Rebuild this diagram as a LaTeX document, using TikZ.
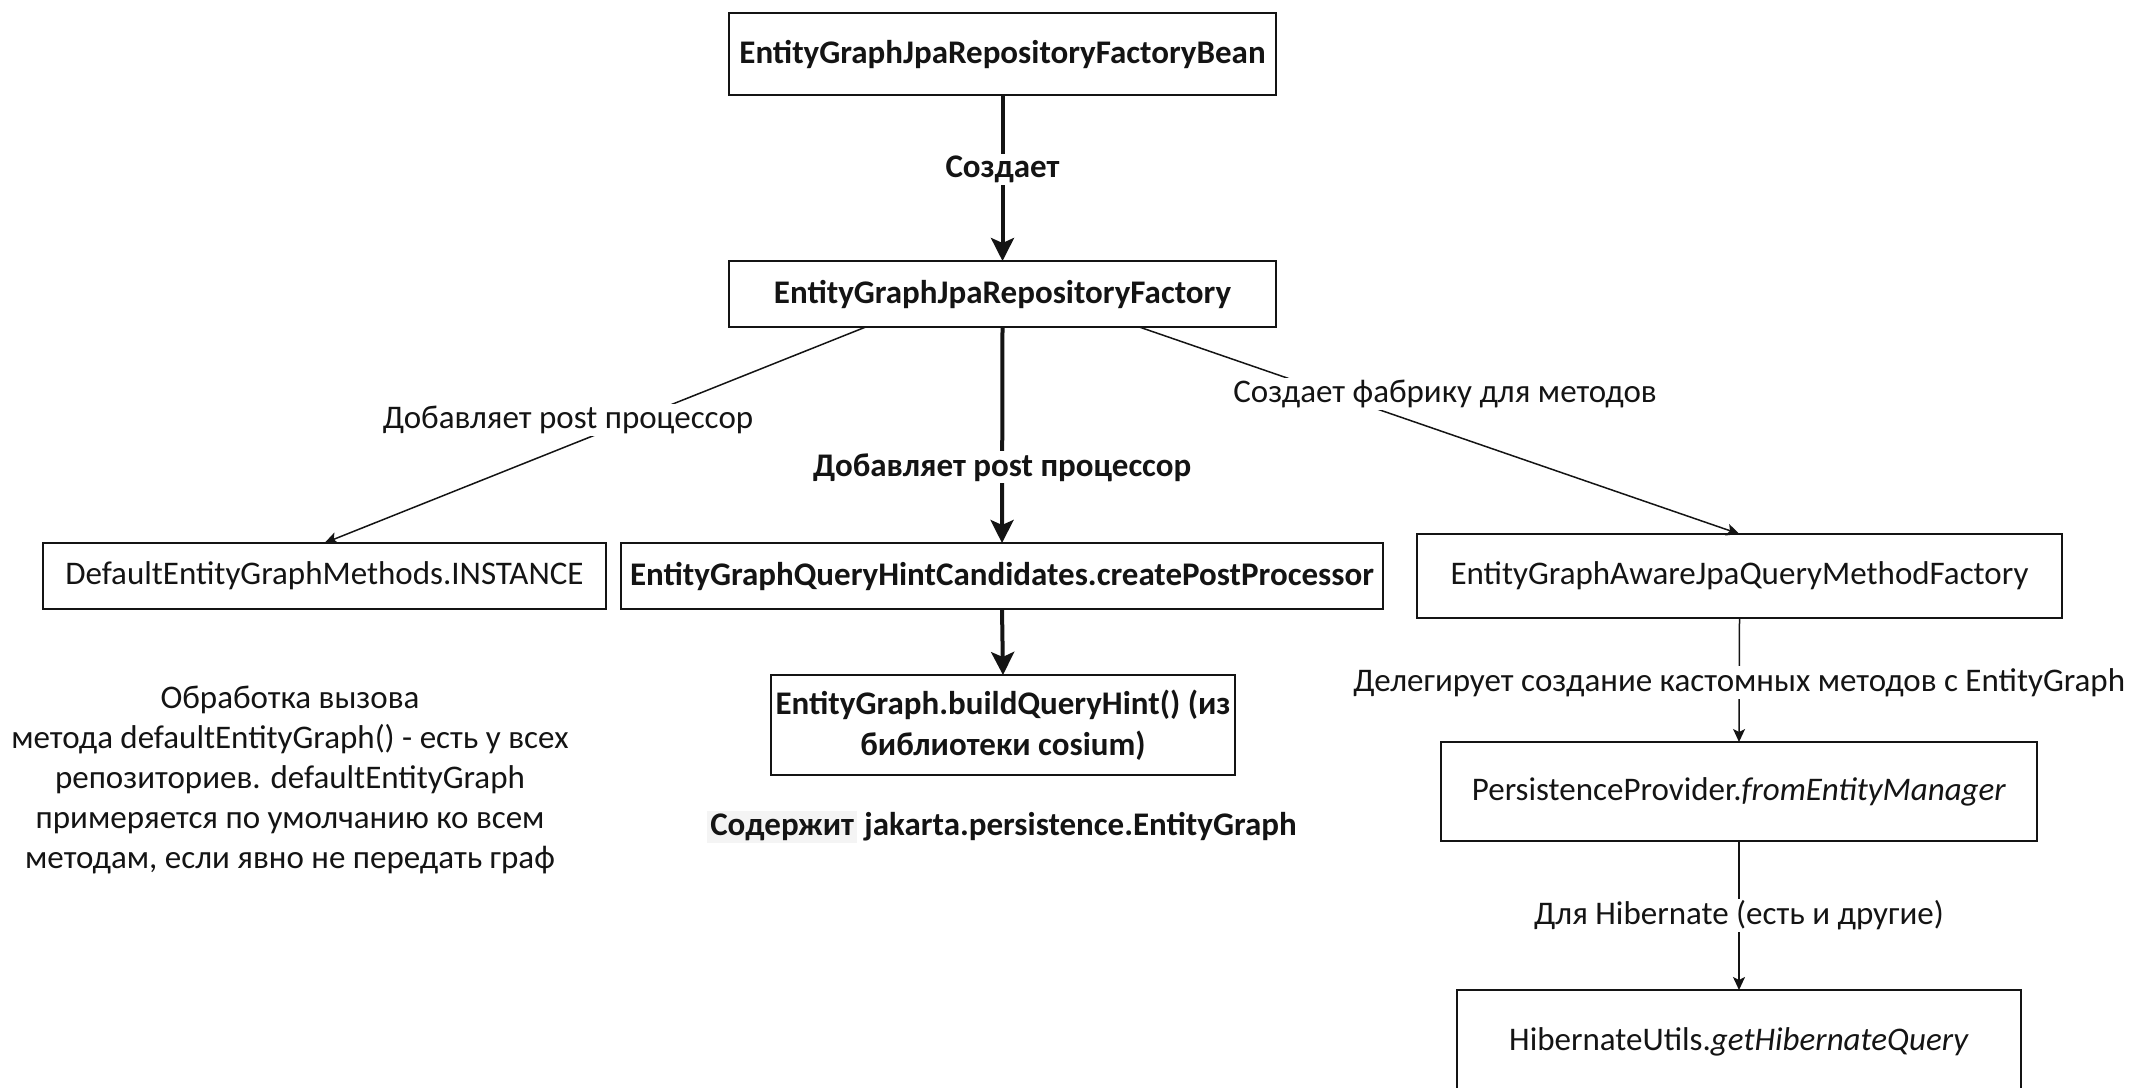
\documentclass[tikz,border=0pt]{standalone}
\usepackage{fontspec}
\setmainfont{Carlito}
\usetikzlibrary{arrows.meta,calc}
\definecolor{hl}{RGB}{244,244,244}
\definecolor{ink}{RGB}{20,20,20}
\begin{document}
\begin{tikzpicture}[x=1pt,y=-1pt,
  txt/.style={inner sep=2pt, outer sep=0pt, align=center, text=ink, font=\fontsize{33}{40}\selectfont},
  txtb/.style={txt, font=\fontsize{33}{40}\selectfont\bfseries},
  box/.style={draw=ink, line width=1.6pt, inner sep=0pt, outer sep=0pt, align=center, text=ink, font=\fontsize{33}{41}\selectfont},
  boldbox/.style={box, font=\fontsize{33}{41}\selectfont\bfseries},
  lbl/.style={txt, fill=white},
  lblb/.style={txtb, fill=white},
  thickarrow/.style={draw=ink, line width=4pt, -{Stealth[length=23pt,width=23pt,inset=5pt]}},
  thinarrow/.style={draw=ink, line width=1.5pt, -{Stealth[length=13pt,width=12pt,inset=3pt]}}
]
\useasboundingbox (0,0) rectangle (2136,1087);

% boxes
\node[boldbox, minimum width=547pt, minimum height=82pt] (b1) at (1002.5,54) {EntityGraphJpaRepositoryFactoryBean};
\node[boldbox, minimum width=547pt, minimum height=66pt] (b2) at (1002.5,294) {EntityGraphJpaRepositoryFactory};
\node[boldbox, minimum width=762pt, minimum height=66pt] (b3) at (1002,576) {EntityGraphQueryHintCandidates.createPostProcessor};
\node[boldbox, minimum width=464pt, minimum height=100pt] (b4) at (1003,725) {EntityGraph.buildQueryHint() (из\\библиотеки cosium)};
\node[box, minimum width=563pt, minimum height=66pt] (dflt) at (324.5,576) {DefaultEntityGraphMethods.INSTANCE};
\node[box, minimum width=645pt, minimum height=84pt] (aware) at (1739.5,576) {EntityGraphAwareJpaQueryMethodFactory};
\node[box, minimum width=596pt, minimum height=99pt] (pp) at (1739,791.5) {PersistenceProvider.\textit{fromEntityManager}};
\node[box, minimum width=564pt, minimum height=104pt] (hu) at (1739,1042) {HibernateUtils.\textit{getHibernateQuery}};

% free texts
\node[txt] (note) at (290,780) {Обработка вызова\\метода defaultEntityGraph() - есть у всех\\репозиториев. defaultEntityGraph\\примеряется по умолчанию ко всем\\методам, если явно не передать граф};
\node[txtb] (contains) at (1002,827) {{\setlength{\fboxsep}{3pt}\colorbox{hl}{Содержит}} jakarta.persistence.EntityGraph};

% connectors
\coordinate (b2l) at ($(b2.south west)!0.25!(b2.south east)$);
\coordinate (b2r) at ($(b2.south west)!0.75!(b2.south east)$);
\draw[thickarrow] (b1.south) -- node[lblb, pos=0.45] (l1) {Создает} (b2.north);
\draw[thickarrow] (b2.south) -- node[lblb, pos=0.65] (l2) {Добавляет post процессор} (b3.north);
\draw[thickarrow] (b3.south) -- (b4.north);
\draw[thinarrow] (b2l) -- (dflt.north);
\draw[thinarrow] (b2r) -- (aware.north);
\draw[thinarrow] (aware.south) -- node[lbl, pos=0.52] (l5) {Делегирует создание кастомных методов с EntityGraph} (pp.north);
\draw[thinarrow] (pp.south) -- node[lbl, pos=0.5] (l6) {Для Hibernate (есть и другие)} (hu.north);

% labels on the slanted connectors
\node[lbl] (l3) at (568,420) {Добавляет post процессор};
\node[lbl] (l4) at (1445,394) {Создает фабрику для методов};
\end{tikzpicture}
\end{document}
